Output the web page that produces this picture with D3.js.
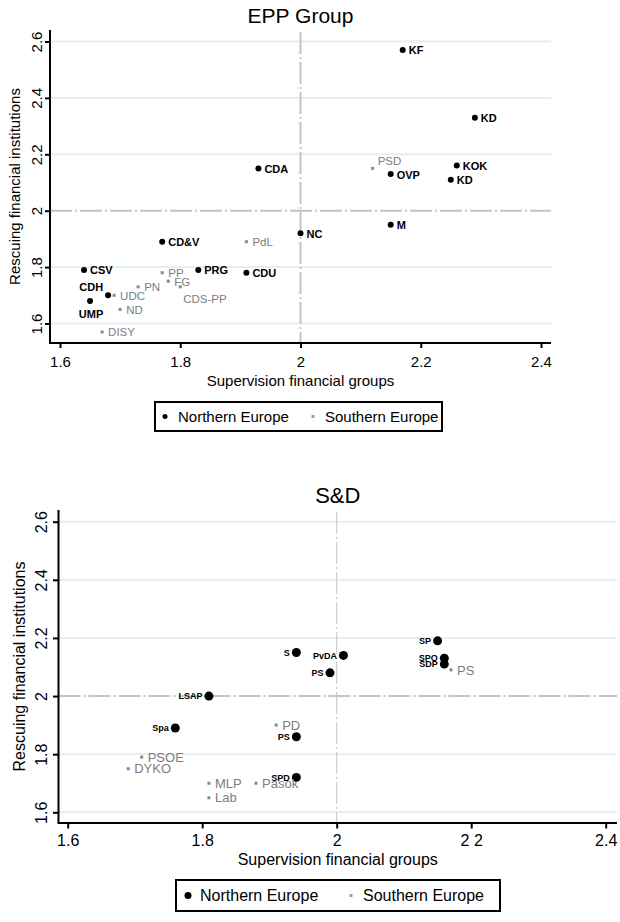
<!DOCTYPE html>
<html>
<head>
<meta charset="utf-8">
<script src="https://cdn.jsdelivr.net/npm/d3@7"></script>
<style>
  body { margin: 0; background: #fff; }
  svg { display: block; font-family: "Liberation Sans", Arial, sans-serif; }
</style>
</head>
<body>
<svg width="620" height="922"></svg>
<script>
// EPP Group
const eppParty = ["KF", "KD", "PSD", "OVP", "KOK", "KD", "CDA", "NC", "M", "CD&V", "PdL", "CSV", "PP", "PRG", "CDU", "FG", "PN", "CDS-PP", "UDC", "CDH", "UMP", "ND", "DISY"];
const eppSupervision = [2.17, 2.29, 2.12, 2.15, 2.26, 2.25, 1.93, 2.0, 2.15, 1.77, 1.91, 1.64, 1.77, 1.83, 1.91, 1.78, 1.73, 1.8, 1.69, 1.68, 1.65, 1.7, 1.67];
const eppRescuing = [2.57, 2.33, 2.15, 2.13, 2.16, 2.11, 2.15, 1.92, 1.95, 1.89, 1.89, 1.79, 1.78, 1.79, 1.78, 1.75, 1.73, 1.73, 1.7, 1.7, 1.68, 1.65, 1.57];
const eppRegion = ["N", "N", "S", "N", "N", "N", "N", "N", "N", "N", "S", "N", "S", "N", "N", "S", "S", "S", "S", "N", "N", "S", "S"];

// S&D
const sdParty = ["SP", "SPO", "SDP", "PS", "S", "PvDA", "PS", "LSAP", "Spa", "PD", "PS", "SPD", "MLP", "Pasok", "Lab", "PSOE", "DYKO"];
const sdSupervision = [2.15, 2.16, 2.16, 2.17, 1.94, 2.01, 1.99, 1.81, 1.76, 1.91, 1.94, 1.94, 1.81, 1.88, 1.81, 1.71, 1.69];
const sdRescuing = [2.19, 2.13, 2.11, 2.09, 2.15, 2.14, 2.08, 2.0, 1.89, 1.9, 1.86, 1.72, 1.7, 1.7, 1.65, 1.79, 1.75];
const sdRegion = ["N", "N", "N", "S", "N", "N", "N", "N", "N", "S", "N", "N", "S", "S", "S", "S", "S"];

const xTicks = [1.6, 1.8, 2, 2.2, 2.4];
const yTicks = [1.6, 1.8, 2, 2.2, 2.4, 2.6];
const eppXLabels = ["1.6", "1.8", "2", "2.2", "2.4"];
const sdXLabels = ["1.6", "1.8", "2", "2 2", "2.4"];
const yLabels = ["1.6", "1.8", "2", "2.2", "2.4", "2.6"];
const legendNames = { N: "Northern Europe", S: "Southern Europe" };

const svg = d3.select("svg");

function drawPanel(opt) {
  const g = svg.append("g");
  const x = d3.scaleLinear().domain([1.6, 2.4]).range(opt.xRange);
  const y = d3.scaleLinear().domain([1.6, 2.6]).range(opt.yRange);
  const f = opt.frame;

  const rows = opt.party.map((p, i) => ({
    party: p,
    sup: opt.sup[i],
    res: opt.res[i],
    region: opt.region[i],
  }));

  // light grid lines
  g.selectAll(".grid")
    .data(yTicks.filter((t) => t !== 2))
    .join("line")
    .attr("x1", f.left)
    .attr("x2", f.right)
    .attr("y1", (d) => y(d))
    .attr("y2", (d) => y(d))
    .attr("stroke", "#e6eef1")
    .attr("stroke-width", 2);

  // reference lines at 2
  g.append("line")
    .attr("x1", f.left)
    .attr("x2", f.right)
    .attr("y1", y(2))
    .attr("y2", y(2))
    .attr("stroke", "#c4c4c4")
    .attr("stroke-width", 2)
    .attr("stroke-dasharray", "22,3,2,3");
  g.append("line")
    .attr("x1", x(2))
    .attr("x2", x(2))
    .attr("y1", f.top + 2)
    .attr("y2", f.bottom)
    .attr("stroke", "#c4c4c4")
    .attr("stroke-width", opt.vRefWidth)
    .attr("stroke-dasharray", "22,3,2,3");

  // axes
  const xAxis = g
    .append("g")
    .attr("transform", `translate(0,${f.bottom})`)
    .call(d3.axisBottom(x).tickValues(xTicks).tickSize(opt.tick).tickFormat((d, i) => opt.xLabels[i]));
  xAxis.select(".domain").remove();
  xAxis.selectAll("line").attr("stroke", "#000").attr("stroke-width", 2);
  xAxis.selectAll("text")
    .attr("y", opt.xLabelOffset)
    .attr("dy", 0)
    .attr("fill", "#000")
    .style("font-size", opt.tickFont + "px")
    .style("font-family", "Liberation Sans, Arial, sans-serif");

  const yAxis = g
    .append("g")
    .attr("transform", `translate(${f.left},0)`)
    .call(d3.axisLeft(y).tickValues(yTicks).tickSize(opt.tick).tickFormat((d, i) => yLabels[i]));
  yAxis.select(".domain").remove();
  yAxis.selectAll("line").attr("stroke", "#000").attr("stroke-width", 2);
  yAxis.selectAll("text")
    .attr("x", 0)
    .attr("dy", 0)
    .attr("text-anchor", "middle")
    .attr("transform", `translate(${opt.yLabelOffset},0) rotate(-90)`)
    .attr("fill", "#000")
    .style("font-size", opt.tickFont + "px")
    .style("font-family", "Liberation Sans, Arial, sans-serif");

  g.append("line")
    .attr("x1", f.left - 1)
    .attr("x2", f.right)
    .attr("y1", f.bottom)
    .attr("y2", f.bottom)
    .attr("stroke", "#000")
    .attr("stroke-width", 2);
  g.append("line")
    .attr("x1", f.left)
    .attr("x2", f.left)
    .attr("y1", f.top)
    .attr("y2", f.bottom)
    .attr("stroke", "#000")
    .attr("stroke-width", 2);

  // titles
  g.append("text")
    .attr("x", (f.left + f.right) / 2)
    .attr("y", opt.titleY)
    .attr("text-anchor", "middle")
    .style("font-size", opt.titleFont + "px")
    .text(opt.title);
  g.append("text")
    .attr("x", (f.left + f.right) / 2)
    .attr("y", opt.xTitleY)
    .attr("text-anchor", "middle")
    .style("font-size", opt.axisFont + "px")
    .text("Supervision financial groups");
  g.append("text")
    .attr("transform", `translate(${opt.yTitleX},${(f.top + f.bottom) / 2}) rotate(-90)`)
    .attr("text-anchor", "middle")
    .style("font-size", opt.axisFont + "px")
    .text("Rescuing financial institutions");

  // points
  const pts = g.selectAll(".pt").data(rows).join("g")
    .attr("transform", (d) => `translate(${x(d.sup)},${y(d.res)})`);

  pts.filter((d) => d.region === "N")
    .append("circle")
    .attr("r", opt.dotR)
    .attr("fill", "#000");
  pts.filter((d) => d.region === "S")
    .append("rect")
    .attr("x", -1.5)
    .attr("y", -1.5)
    .attr("width", 3)
    .attr("height", 3)
    .attr("fill", "#8a8a8a");

  pts.append("text")
    .each(function (d, i) {
      const p = opt.labelPos(d, i);
      d3.select(this)
        .attr("x", p[0])
        .attr("y", p[1])
        .attr("text-anchor", p[2]);
    })
    .attr("fill", (d) => (d.region === "N" ? "#000" : "#7d7d7d"))
    .style("font-size", (d) => (d.region === "N" ? opt.nFont : opt.sFont) + "px")
    .style("font-weight", (d) => (d.region === "N" ? "bold" : "normal"))
    .text((d) => d.party);

  // legend
  const L = opt.legend;
  g.append("rect")
    .attr("x", L.x)
    .attr("y", L.y)
    .attr("width", L.w)
    .attr("height", L.h)
    .attr("fill", "#fff")
    .attr("stroke", "#000")
    .attr("stroke-width", 2);
  const cy = L.y + L.h / 2;
  g.append("circle").attr("cx", L.nMark).attr("cy", cy).attr("r", L.r).attr("fill", "#000");
  g.append("text").attr("x", L.nText).attr("y", cy + L.font * 0.36)
    .style("font-size", L.font + "px").text(legendNames.N);
  g.append("rect").attr("x", L.sMark - 1.5).attr("y", cy - 1.5).attr("width", 3).attr("height", 3).attr("fill", "#9a9a9a");
  g.append("text").attr("x", L.sText).attr("y", cy + L.font * 0.36)
    .style("font-size", L.font + "px").text(legendNames.S);
}

// label placement, Stata-like clock positions for a few crowded points
const eppSpecial = {
  CDH: [-5, -4, "end"],
  UMP: [1, 17, "middle"],
  PSD: [5, -3, "start"],
  "CDS-PP": [3, 16, "start"],
};

drawPanel({
  title: "EPP Group",
  party: eppParty,
  sup: eppSupervision,
  res: eppRescuing,
  region: eppRegion,
  xLabels: eppXLabels,
  xRange: [60, 541],
  yRange: [323.5, 41.5],
  frame: { left: 50, right: 551, top: 30, bottom: 343 },
  vRefWidth: 2,
  tick: 5,
  tickFont: 15,
  xLabelOffset: 24,
  yLabelOffset: -8.5,
  titleY: 23,
  titleFont: 21,
  xTitleY: 386,
  yTitleX: 20,
  axisFont: 15,
  dotR: 3,
  nFont: 11,
  sFont: 11.5,
  labelPos: (d) => eppSpecial[d.party] || [6, 4.5, "start"],
  legend: { x: 155, y: 402, w: 287, h: 29, nMark: 165, nText: 178, sMark: 313, sText: 325, r: 2.5, font: 15 },
});

drawPanel({
  title: "S&D",
  party: sdParty,
  sup: sdSupervision,
  res: sdRescuing,
  region: sdRegion,
  xLabels: sdXLabels,
  xRange: [67.7, 605.7],
  yRange: [812.3, 521.7],
  frame: { left: 58.5, right: 617, top: 510, bottom: 823 },
  vRefWidth: 1,
  tick: 5.5,
  tickFont: 16,
  xLabelOffset: 23,
  yLabelOffset: -12,
  titleY: 503,
  titleFont: 22,
  xTitleY: 865,
  yTitleX: 25,
  axisFont: 16,
  dotR: 4.5,
  nFont: 9,
  sFont: 13,
  labelPos: (d) => (d.region === "N" ? [-6.5, 3.2, "end"] : [6, 4.6, "start"]),
  legend: { x: 176, y: 880, w: 324, h: 31, nMark: 188, nText: 200, sMark: 351, sText: 363, r: 3.5, font: 16 },
});
</script>
</body>
</html>
